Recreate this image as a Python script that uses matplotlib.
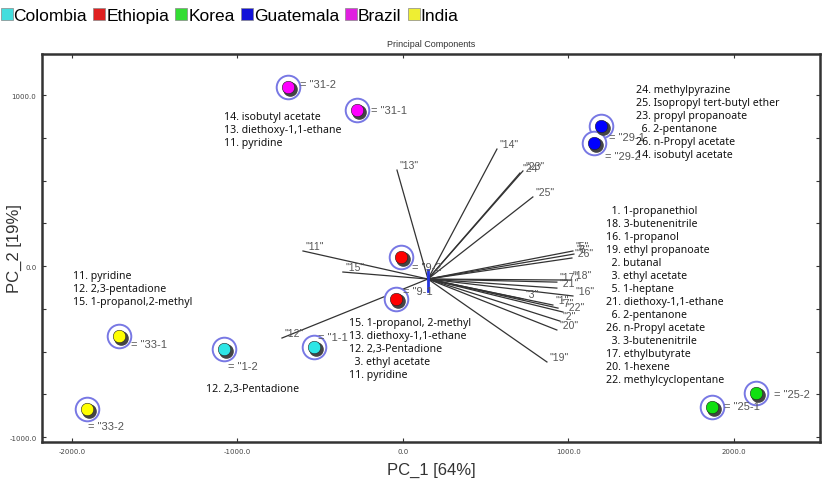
import matplotlib
matplotlib.use("Agg")
import matplotlib.pyplot as plt
import matplotlib.transforms as mtransforms
from matplotlib.lines import Line2D
import numpy as np

plt.rcParams['axes.unicode_minus'] = False

# ---- data ----
countries = ["Colombia", "Ethiopia", "Korea", "Guatemala", "Brazil", "India"]
country_colors = ["#2EE6E6", "#FF0000", "#10E010", "#0000FF", "#FF00FF", "#FFFF00"]
legend_colors = ["#44DDDD", "#E02020", "#33DD33", "#1010D8", "#E020E0", "#EEEE33"]

sample_names = ["31-2", "31-1", "29-1", "29-2", "9-2", "9-1", "1-1", "1-2", "33-1", "33-2", "25-1", "25-2"]
sample_country = ["Brazil", "Brazil", "Guatemala", "Guatemala", "Ethiopia", "Ethiopia",
                  "Colombia", "Colombia", "India", "India", "Korea", "Korea"]
pc1 = [-695, -278, 1196, 1154, -12, -42, -538, -1082, -1716, -1909, 1867, 2133]
pc2 = [1047, 912, 819, 719, 53, -193, -474, -485, -409, -836, -825, -743]

loading_origin = (151, -76)
loading_labels = ["13", "14", "23", "24", "25", "11", "15", "12", "5", "6", "26", "18",
                  "17", "21", "16", "3", "1", "7", "22", "2", "20", "19"]
loading_x = [-36, 568, 725, 707, 785, -604, -363, -731, 1027, 1033, 1021, 1009,
             930, 930, 1027, 725, 906, 937, 967, 949, 930, 870]
loading_y = [561, 684, 556, 544, 404, 88, -35, -421, 88, 70, 47, -82,
             -94, -129, -175, -193, -228, -246, -269, -322, -374, -561]

xlabel = "PC_1 [64%]"
ylabel = "PC_2 [19%]"
title = "Principal Components"
xticks = [-2000, -1000, 0, 1000, 2000]
yticks = [-1000, 0, 1000]

block_brazil = ["14. isobutyl acetate", "13. diethoxy-1,1-ethane", "11. pyridine"]
block_guatemala = ["24. methylpyrazine", "25. Isopropyl tert-butyl ether", "23. propyl propanoate",
                   "  6. 2-pentanone", "26. n-Propyl acetate", "14. isobutyl acetate"]
block_korea = ["  1. 1-propanethiol", "18. 3-butenenitrile", "16. 1-propanol", "19. ethyl propanoate",
               "  2. butanal", "  3. ethyl acetate", "  5. 1-heptane", "21. diethoxy-1,1-ethane",
               "  6. 2-pentanone", "26. n-Propyl acetate", "  3. 3-butenenitrile", "17. ethylbutyrate",
               "20. 1-hexene", "22. methylcyclopentane"]
block_ethiopia = ["15. 1-propanol, 2-methyl", "13. diethoxy-1,1-ethane", "12. 2,3-Pentadione",
                  "  3. ethyl acetate", "11. pyridine"]
block_india = ["11. pyridine", "12. 2,3-pentadione", "15. 1-propanol,2-methyl"]
block_colombia = ["12. 2,3-Pentadione"]

# ---- figure ----
fig = plt.figure(figsize=(8.27, 4.85), dpi=100)
ax = fig.add_axes([42/827, 42/485, (820-42)/827, (443-55)/485])
ax.set_xlim(-2181, 2520)
ax.set_ylim(-1029, 1240)

# loading vectors
ox, oy = loading_origin
for lab, lx, ly in zip(loading_labels, loading_x, loading_y):
    ax.plot([ox, lx], [oy, ly], color="#333333", lw=0.9, zorder=2)
    ax.annotate('"%s"' % lab, (lx, ly), xytext=(2, 0), textcoords="offset points",
                ha="left", va="bottom", fontsize=7.5, color="#555555",
                family="Liberation Sans", zorder=3)
ax.plot([ox, ox], [oy + 55, oy - 70], color="#2233DD", lw=2, zorder=4)

# sample points
cmap = dict(zip(countries, country_colors))
shadow_tr = mtransforms.offset_copy(ax.transData, fig=fig, x=1.6, y=-1.6, units="points")
for name, c, x, y in zip(sample_names, sample_country, pc1, pc2):
    ax.plot(x, y, "o", ms=17, mfc="white", mec="#7878E4", mew=1.4, zorder=5)
    ax.plot(x, y, "o", ms=9.5, color="#444444", transform=shadow_tr, zorder=6)
    ax.plot(x, y, "o", ms=9, mfc=cmap[c], mec="#222222", mew=0.4, zorder=7)

label_offsets = {"31-2": (9, 2), "31-1": (10, 0), "29-1": (6, -8), "29-2": (8, -9),
                 "9-2": (8, -7), "9-1": (5, 6), "1-1": (3, 7), "1-2": (3, -12),
                 "33-1": (9, -6), "33-2": (1, -12), "25-1": (9, 1), "25-2": (13, -1)}
for name, x, y in zip(sample_names, pc1, pc2):
    ax.annotate('= "%s' % name, (x, y), xytext=label_offsets[name], textcoords="offset points",
                ha="left", va="center", fontsize=8, color="#555555",
                family="Liberation Sans", zorder=8)

# compound text blocks
def block(lines, x, y):
    ax.text(x, y, "\n".join(lines), ha="left", va="top", fontsize=7.6, color="#111111",
            family="Noto Sans", linespacing=1.25, zorder=9)

block(block_brazil, -1082, 906)
block(block_guatemala, 1408, 1064)
block(block_korea, 1227, 357)
block(block_ethiopia, -326, -298)
block(block_india, -1994, -23)
block(block_colombia, -1190, -684)

# axes styling
ax.set_xticks(xticks)
ax.set_yticks(yticks)
ax.set_yticks(np.arange(-1000, 1001, 250), minor=True)
ax.xaxis.set_major_formatter(matplotlib.ticker.FormatStrFormatter("%.1f"))
ax.yaxis.set_major_formatter(matplotlib.ticker.FormatStrFormatter("%.1f"))
ax.tick_params(which="both", direction="in", top=True, right=True, length=3,
               width=0.8, color="#333333", labelsize=5, labelcolor="#444444", pad=4)
for sp in ax.spines.values():
    sp.set_linewidth(1.8)
    sp.set_color("#333333")

ax.set_title(title, fontsize=6.5, color="#333333", pad=6, family="Liberation Sans")
ax.set_xlabel(xlabel, fontsize=12, color="#333333", family="Liberation Sans", labelpad=6)
ax.set_ylabel(ylabel, fontsize=12, color="#333333", family="Liberation Sans")
ax.yaxis.set_label_coords(-0.026, 0.5)

# legend
handles = [Line2D([], [], marker="s", ls="", ms=9, mfc=c, mec="#888888", mew=0.5)
           for c in legend_colors]
fig.legend(handles, countries, loc="upper left", bbox_to_anchor=(-0.012, 1.003), ncol=6,
           frameon=False, handlelength=0.7, handletextpad=0.05, columnspacing=0.35,
           borderaxespad=0.2, prop={"family": "Liberation Sans", "size": 12.5})

fig.savefig("out.png", dpi=100)
